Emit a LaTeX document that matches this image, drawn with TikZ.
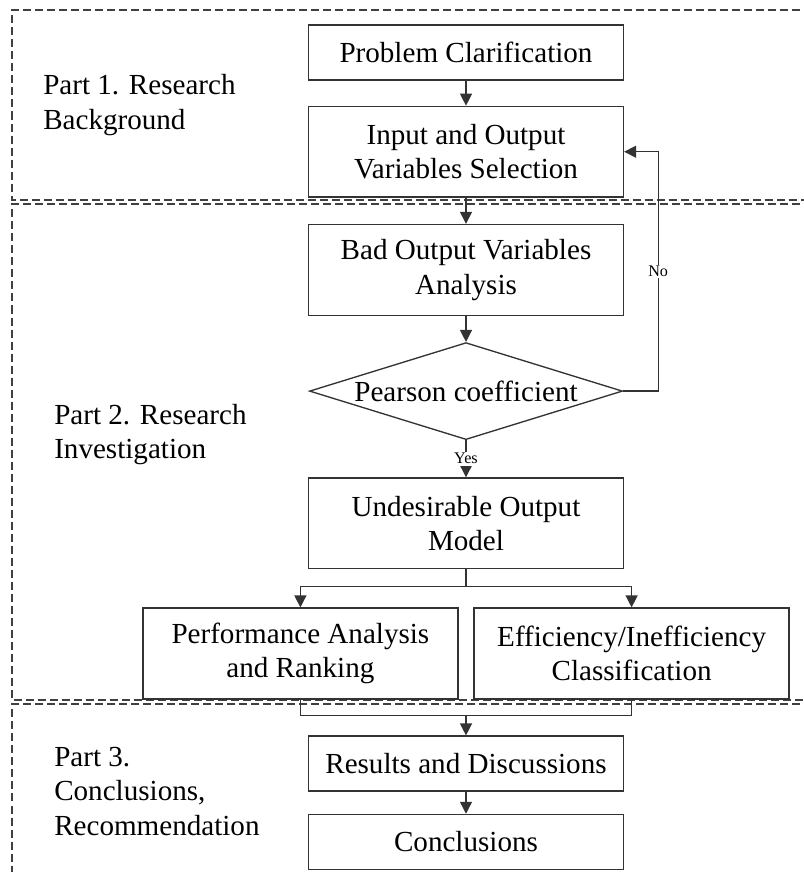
\documentclass[tikz,border=0pt]{standalone}
\usepackage{fontspec}
\setmainfont{Liberation Serif}
\usetikzlibrary{arrows.meta, positioning, shapes.geometric}

\begin{document}
\begin{tikzpicture}[node distance=0.65cm,
        ln/.style={draw=black!80, line width=0.95pt},
        box/.style={ln, rectangle, minimum width=7.875cm, minimum height=1.375cm, align=center, inner sep=2pt, font=\fontsize{20.7}{24.6}\selectfont},
        tallbox/.style={box, minimum height=2.27cm},
        decision/.style={ln, diamond, shape aspect=3.2, minimum width=7.825cm, minimum height=2.425cm, inner sep=0pt, font=\fontsize{20.7}{24.6}\selectfont},
        arr/.style={ln, -{Triangle[width=0.3cm,length=0.3cm]}},
        tag/.style={fill=white, inner sep=1pt, font=\fontsize{11.5}{13}\selectfont},
        part/.style={align=left, anchor=west, inner sep=0pt, font=\fontsize{20.7}{24.4}\selectfont},
        region/.style={draw=black!75, line width=0.9pt, dash pattern=on 5.7pt off 2.85pt}]
        \useasboundingbox (0,0) rectangle (20.1,-21.8);

        % Bereiche
        \draw[region] (20.3,-0.25) -| (0.3,-5.0) -- (20.3,-5.0);
        \draw[region] (20.3,-5.1) -| (0.3,-17.5) -- (20.3,-17.5);
        \draw[region] (20.3,-17.6) -| (0.3,-21.9);

        \node (p1) [part] at (1.075,-2.625) {Part 1. Research\\Background};
        \node (p2) [part] at (1.35,-10.86) {Part 2. Research\\Investigation};
        \node (p3) [part] at (1.35,-19.78) {Part 3.\\Conclusions,\\Recommendation};

        % Ablauf
        \node (problem) [box] at (11.65,-1.3125) {Problem Clarification};
        \node (input) [tallbox, below=0.625cm of problem] {Input and Output\\Variables Selection};
        \node (bad) [tallbox, below=of input] {Bad Output Variables\\Analysis};
        \node (pearson) [decision, below=of bad] {Pearson coefficient};
        \node (undes) [tallbox, below=0.925cm of pearson] {Undesirable Output\\Model};
        \node (perf) [tallbox, below=0.95cm of undes, xshift=-4.14cm] {Performance Analysis\\and Ranking};
        \node (eff) [tallbox, below=0.95cm of undes, xshift=4.14cm] {Efficiency/Inefficiency\\Classification};
        \node (results) [box, below=4.15cm of undes] {Results and Discussions};
        \node (concl) [box, below=0.55cm of results] {Conclusions};

        \draw[arr] (problem) -- (input);
        \draw[arr] (input) -- (bad);
        \draw[arr] (bad) -- (pearson);
        \draw[arr] (pearson) -- node[tag] {Yes} (undes);
        \draw[arr] (pearson.east) -- ++(0.875,0) |- node[tag, pos=0.25] {No} (input.east);

        % Verzweigung
        \coordinate (split) at ([yshift=-0.425cm]undes.south);
        \draw[ln] (undes) -- (split);
        \draw[arr] (split) -| (perf.north);
        \draw[arr] (split) -| (eff.north);

        % Zusammenfuehrung
        \coordinate (merge) at ([yshift=-0.4cm]perf.south -| undes.south);
        \draw[ln] (perf.south) |- (merge) -| (eff.south);
        \draw[arr] (merge) -- (results);
        \draw[arr] (results) -- (concl);
    \end{tikzpicture}
\end{document}
